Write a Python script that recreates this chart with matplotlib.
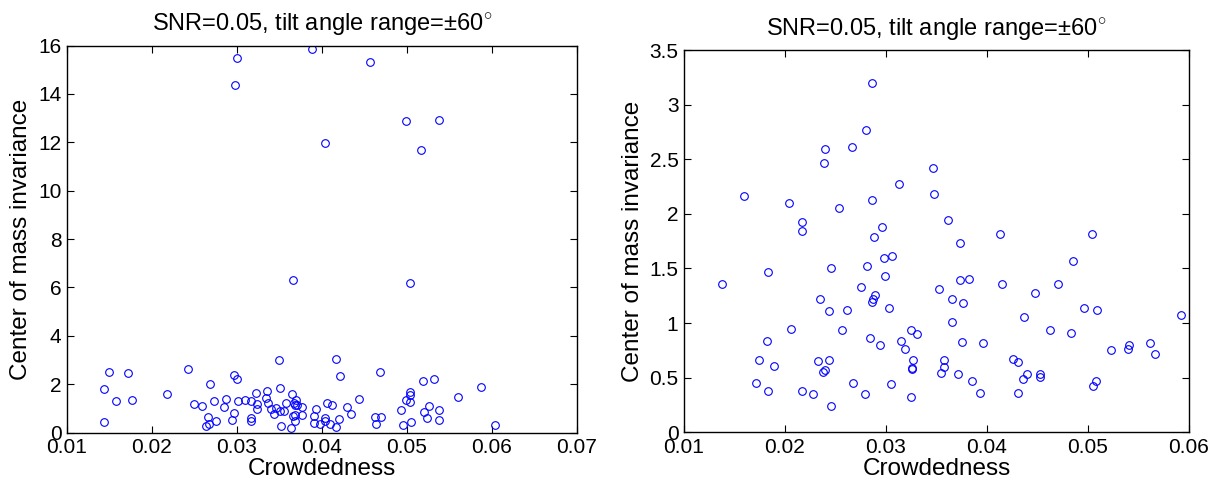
import matplotlib
matplotlib.use("Agg")
import matplotlib.pyplot as plt

plt.rcParams['font.family'] = ['Liberation Sans', 'DejaVu Sans']
plt.rcParams['mathtext.fontset'] = 'custom'
plt.rcParams['mathtext.rm'] = 'Liberation Sans'

title = 'SNR=0.05, tilt angle range=\u00b160$^{\\circ}$'
xlabel = 'Crowdedness'
ylabel = 'Center of mass invariance'

# left panel: crowdedness vs invariance
left_x = [0.0300, 0.0298, 0.0388, 0.0456, 0.0499, 0.0538, 0.0404, 0.0517, 0.0366, 0.0503,
          0.0150, 0.0172, 0.0144, 0.0158, 0.0177, 0.0144, 0.0218, 0.0242, 0.0249, 0.0259,
          0.0268, 0.0273, 0.0266, 0.0267, 0.0264, 0.0275, 0.0285, 0.0287, 0.0297, 0.0300,
          0.0301, 0.0297, 0.0294, 0.0309, 0.0317, 0.0322, 0.0323, 0.0323, 0.0317, 0.0317,
          0.0349, 0.0335, 0.0351, 0.0334, 0.0337, 0.0340, 0.0346, 0.0344, 0.0351, 0.0355,
          0.0352, 0.0358, 0.0365, 0.0367, 0.0370, 0.0371, 0.0377, 0.0368, 0.0366, 0.0368,
          0.0368, 0.0376, 0.0364,
          0.0416, 0.0421, 0.0468, 0.0444, 0.0406, 0.0412, 0.0429, 0.0393, 0.0434, 0.0391,
          0.0404, 0.0420, 0.0403, 0.0391, 0.0398, 0.0409, 0.0417, 0.0462, 0.0469, 0.0464,
          0.0493, 0.0495, 0.0505, 0.0504, 0.0504, 0.0499, 0.0503, 0.0519, 0.0532, 0.0526,
          0.0520, 0.0523, 0.0538, 0.0538, 0.0560, 0.0587, 0.0603]
left_y = [15.49, 14.36, 15.86, 15.31, 12.88, 12.91, 11.99, 11.69, 6.29, 6.19,
          2.51, 2.45, 1.80, 1.29, 1.36, 0.45, 1.60, 2.64, 1.19, 1.08,
          2.02, 1.30, 0.64, 0.35, 0.27, 0.49, 1.07, 1.40, 2.39, 2.20,
          1.29, 0.82, 0.52, 1.36, 1.29, 1.65, 1.19, 0.96, 0.59, 0.48,
          3.00, 1.71, 1.85, 1.44, 1.21, 0.96, 1.01, 0.78, 0.90, 0.90,
          0.28, 1.22, 1.59, 1.21, 1.33, 1.12, 1.04, 1.14, 0.69, 0.71,
          0.46, 0.74, 0.19,
          3.04, 2.33, 2.50, 1.38, 1.21, 1.12, 1.07, 0.98, 0.76, 0.68,
          0.61, 0.55, 0.48, 0.38, 0.35, 0.34, 0.24, 0.64, 0.65, 0.34,
          0.94, 0.31, 0.43, 1.69, 1.55, 1.34, 1.27, 2.14, 2.20, 1.10,
          0.86, 0.60, 0.93, 0.53, 1.48, 1.89, 0.32]

# right panel
right_x = [0.0286, 0.0280, 0.0240, 0.0266, 0.0239, 0.0347, 0.0313, 0.0159, 0.0204, 0.0286,
           0.0348, 0.0253, 0.0217, 0.0217, 0.0296, 0.0288, 0.0361, 0.0413, 0.0504,
           0.0298, 0.0306, 0.0183, 0.0246, 0.0281, 0.0299, 0.0138, 0.0275, 0.0289, 0.0287,
           0.0286, 0.0235, 0.0244, 0.0261, 0.0303, 0.0352, 0.0206, 0.0256, 0.0182, 0.0284,
           0.0294, 0.0325, 0.0331, 0.0315, 0.0319, 0.0174, 0.0189, 0.0233, 0.0244, 0.0240,
           0.0238, 0.0327, 0.0326, 0.0326, 0.0171, 0.0183, 0.0217, 0.0228, 0.0267, 0.0279,
           0.0305, 0.0246, 0.0325,
           0.0373, 0.0485, 0.0373, 0.0382, 0.0415, 0.0470, 0.0365, 0.0376, 0.0448, 0.0496,
           0.0509, 0.0592, 0.0365, 0.0437, 0.0462, 0.0483, 0.0375, 0.0396, 0.0523, 0.0541,
           0.0540, 0.0561, 0.0566, 0.0357, 0.0357, 0.0354, 0.0371, 0.0385, 0.0393, 0.0426,
           0.0431, 0.0436, 0.0440, 0.0431, 0.0452, 0.0452, 0.0508, 0.0505]
right_y = [3.20, 2.77, 2.59, 2.61, 2.47, 2.42, 2.27, 2.16, 2.10, 2.13,
           2.18, 2.05, 1.93, 1.84, 1.88, 1.79, 1.94, 1.82, 1.82,
           1.60, 1.61, 1.47, 1.50, 1.52, 1.43, 1.36, 1.33, 1.26, 1.22,
           1.19, 1.22, 1.11, 1.12, 1.14, 1.31, 0.95, 0.94, 0.84, 0.86,
           0.80, 0.94, 0.90, 0.84, 0.76, 0.66, 0.61, 0.65, 0.66, 0.57,
           0.55, 0.66, 0.59, 0.58, 0.45, 0.38, 0.38, 0.35, 0.45, 0.35,
           0.44, 0.24, 0.32,
           1.73, 1.57, 1.39, 1.40, 1.36, 1.36, 1.22, 1.18, 1.28, 1.14,
           1.12, 1.07, 1.01, 1.06, 0.94, 0.91, 0.83, 0.82, 0.75, 0.80,
           0.76, 0.82, 0.72, 0.66, 0.60, 0.54, 0.53, 0.47, 0.36, 0.67,
           0.64, 0.49, 0.53, 0.36, 0.53, 0.51, 0.47, 0.42]

left_xticks = [0.01, 0.02, 0.03, 0.04, 0.05, 0.06, 0.07]
left_yticks = [0, 2, 4, 6, 8, 10, 12, 14, 16]
right_xticks = [0.01, 0.02, 0.03, 0.04, 0.05, 0.06]
right_yticks = [0, 0.5, 1, 1.5, 2, 2.5, 3, 3.5]
right_yticklabels = ['0', '0.5', '1', '1.5', '2', '2.5', '3', '3.5']

fig = plt.figure(figsize=(12.24, 4.88), dpi=100)
ax1 = fig.add_axes([0.0547, 0.1137, 0.4167, 0.793])
ax2 = fig.add_axes([0.5588, 0.1141, 0.4126, 0.7834])

def style(ax):
    ax.tick_params(direction='in', top=True, right=True, length=5, width=0.8,
                   labelsize=15, pad=4)
    for s in ax.spines.values():
        s.set_linewidth(1.0)
    ax.set_xlabel(xlabel, fontsize=17.5, labelpad=1)
    ax.set_ylabel(ylabel, fontsize=17.5, labelpad=4)
    ax.set_title(title, fontsize=17, pad=10)

ax1.plot(left_x, left_y, 'o', mfc='none', mec='blue', ms=5.5, mew=0.8)
ax1.set_xlim(0.01, 0.07)
ax1.set_ylim(0, 16)
ax1.set_xticks(left_xticks)
ax1.set_xticklabels([f'{v:.2f}' for v in left_xticks])
ax1.set_yticks(left_yticks)
style(ax1)

ax2.plot(right_x, right_y, 'o', mfc='none', mec='blue', ms=5.5, mew=0.8)
ax2.set_xlim(0.01, 0.06)
ax2.set_ylim(0, 3.5)
ax2.set_xticks(right_xticks)
ax2.set_xticklabels([f'{v:.2f}' for v in right_xticks])
ax2.set_yticks(right_yticks)
ax2.set_yticklabels(right_yticklabels)
style(ax2)

fig.savefig('out.png', dpi=100)
